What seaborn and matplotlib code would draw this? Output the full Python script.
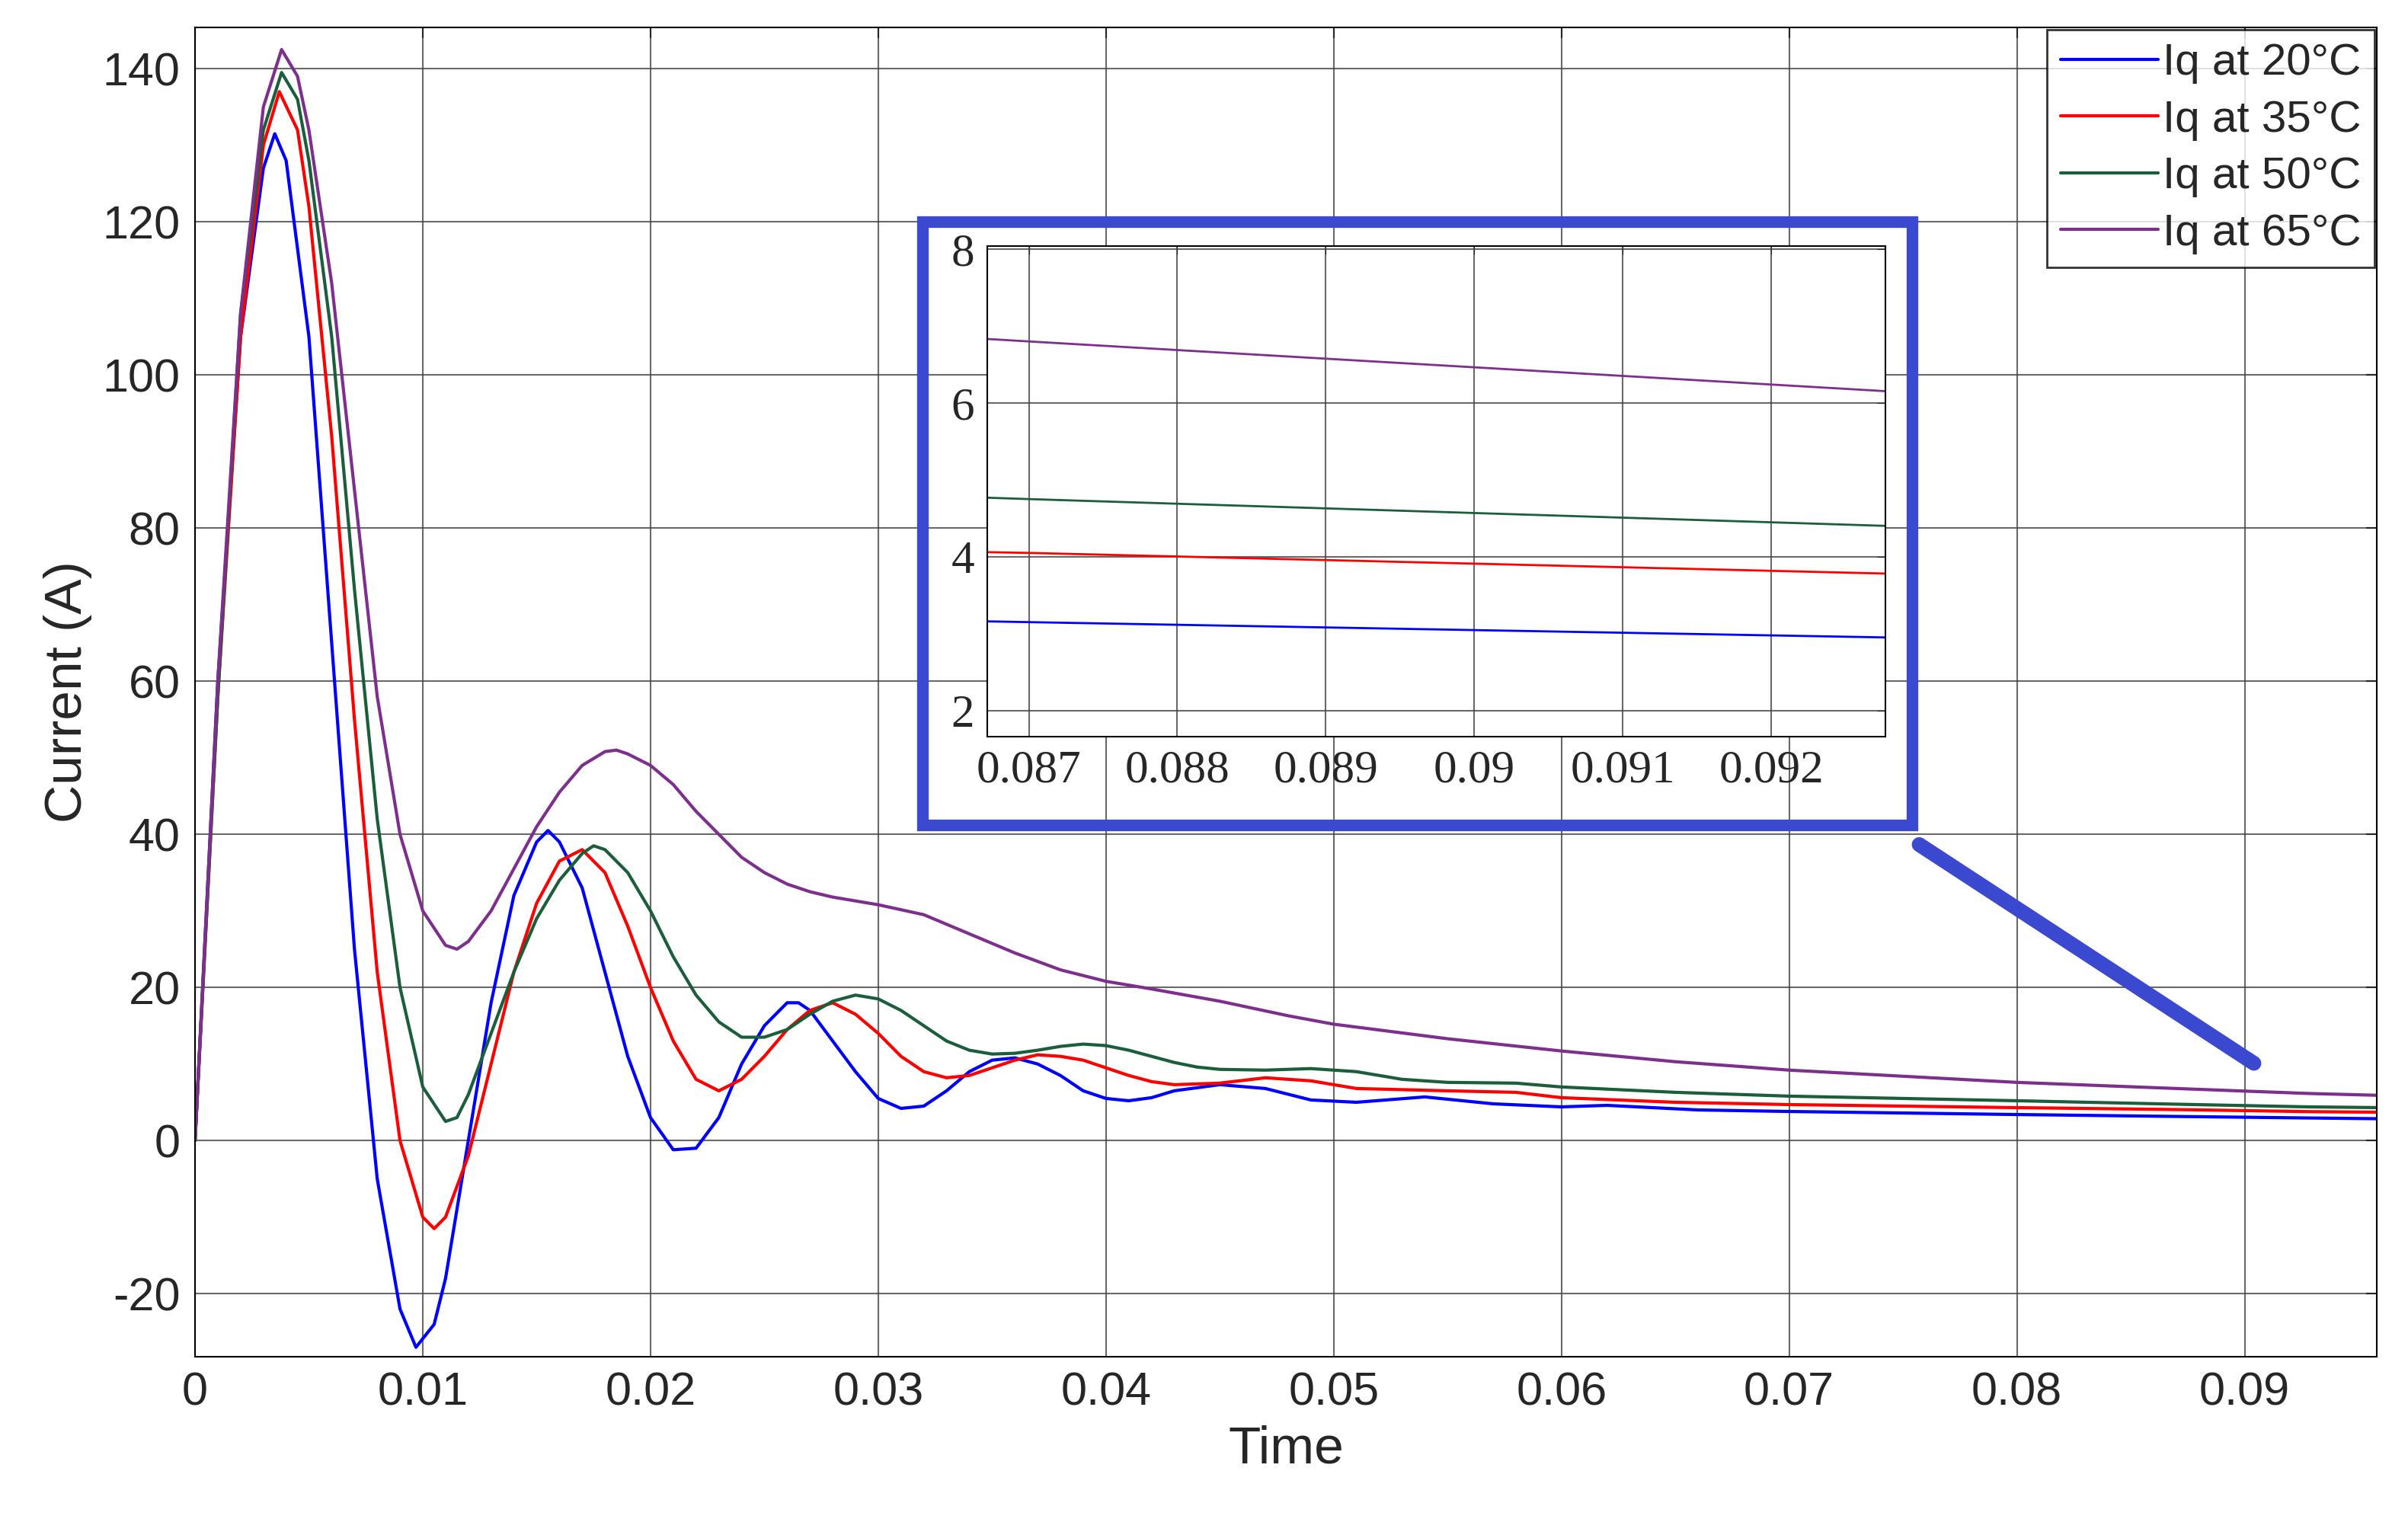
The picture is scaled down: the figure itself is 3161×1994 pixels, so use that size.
import numpy as np
import pandas as pd
import matplotlib
matplotlib.use("Agg")
import matplotlib.pyplot as plt
import seaborn as sns
from matplotlib.lines import Line2D
from matplotlib.patches import Rectangle

t_20 = [0, 0.001, 0.002, 0.003, 0.0035, 0.004, 0.005, 0.006, 0.007, 0.008, 0.009, 0.0097, 0.0105, 0.011, 0.012,
        0.013, 0.014, 0.015, 0.0155, 0.016, 0.017, 0.018, 0.019, 0.020, 0.021, 0.022, 0.023, 0.024, 0.025, 0.026,
        0.0265, 0.027, 0.028, 0.029, 0.030, 0.031, 0.032, 0.033, 0.034, 0.035, 0.036, 0.037, 0.038, 0.039, 0.040,
        0.041, 0.042, 0.043, 0.045, 0.047, 0.049, 0.051, 0.054, 0.057, 0.060, 0.062, 0.066, 0.070, 0.080, 0.087,
        0.0928, 0.096]
iq_20 = [0, 60, 105, 127, 131.5, 128, 105, 65, 25, -5, -22, -27, -24, -18, 0,
         18, 32, 39, 40.5, 39, 33, 22, 11, 3, -1.2, -1, 3, 10, 15, 18,
         18, 17, 13, 9, 5.5, 4.2, 4.5, 6.5, 9, 10.5, 10.8, 10, 8.5, 6.5, 5.5,
         5.2, 5.6, 6.5, 7.3, 6.8, 5.3, 5.0, 5.7, 4.8, 4.4, 4.6, 4.0, 3.8, 3.4, 3.15,
         2.95, 2.85]

t_35 = [0, 0.001, 0.002, 0.003, 0.0037, 0.0045, 0.005, 0.006, 0.007, 0.008, 0.009, 0.010, 0.0105, 0.011, 0.012,
        0.013, 0.014, 0.015, 0.016, 0.017, 0.018, 0.019, 0.020, 0.021, 0.022, 0.023, 0.024, 0.025, 0.026, 0.027,
        0.028, 0.029, 0.030, 0.031, 0.032, 0.033, 0.034, 0.035, 0.036, 0.037, 0.038, 0.039, 0.040, 0.041, 0.042,
        0.043, 0.045, 0.047, 0.049, 0.051, 0.055, 0.058, 0.060, 0.065, 0.070, 0.080, 0.087, 0.0928, 0.096]
iq_35 = [0, 58, 105, 130, 137, 132, 122, 92, 55, 22, 0, -10, -11.5, -10, -2,
         10, 22, 31, 36.5, 38, 35, 28, 20, 13, 8, 6.5, 8, 11, 14.5, 17,
         18, 16.5, 14, 11, 9, 8.2, 8.5, 9.5, 10.5, 11.2, 11, 10.5, 9.5, 8.5, 7.7,
         7.3, 7.5, 8.2, 7.8, 6.8, 6.5, 6.3, 5.6, 5.0, 4.7, 4.3, 4.05, 3.78, 3.7]

t_50 = [0, 0.001, 0.002, 0.003, 0.0038, 0.0045, 0.005, 0.006, 0.007, 0.008, 0.009, 0.010, 0.011, 0.0115, 0.012,
        0.013, 0.014, 0.015, 0.016, 0.017, 0.0175, 0.018, 0.019, 0.020, 0.021, 0.022, 0.023, 0.024, 0.025, 0.026,
        0.027, 0.028, 0.029, 0.030, 0.031, 0.032, 0.033, 0.034, 0.035, 0.036, 0.037, 0.038, 0.039, 0.040, 0.041,
        0.042, 0.043, 0.044, 0.045, 0.047, 0.049, 0.051, 0.053, 0.055, 0.058, 0.060, 0.065, 0.070, 0.080, 0.087,
        0.0928, 0.096]
iq_50 = [0, 58, 108, 132, 139.5, 136, 128, 105, 72, 42, 20, 7, 2.5, 3, 6,
         14, 22, 29, 34, 37.5, 38.5, 38, 35, 30, 24, 19, 15.5, 13.5, 13.5, 14.5,
         16.5, 18.2, 19, 18.5, 17, 15, 13, 11.8, 11.3, 11.4, 11.8, 12.3, 12.6, 12.4, 11.8,
         11, 10.2, 9.6, 9.3, 9.2, 9.4, 9.0, 8.0, 7.6, 7.5, 7.0, 6.3, 5.8, 5.2, 4.75,
         4.4, 4.3]

t_65 = [0, 0.001, 0.002, 0.003, 0.0038, 0.0045, 0.005, 0.006, 0.007, 0.008, 0.009, 0.010, 0.011, 0.0115, 0.012,
        0.013, 0.014, 0.015, 0.016, 0.017, 0.018, 0.0185, 0.019, 0.020, 0.021, 0.022, 0.023, 0.024, 0.025, 0.026,
        0.027, 0.028, 0.030, 0.032, 0.034, 0.036, 0.038, 0.040, 0.042, 0.045, 0.048, 0.050, 0.055, 0.060, 0.065,
        0.070, 0.080, 0.087, 0.0928, 0.096]
iq_65 = [0, 60, 108, 135, 142.5, 139, 132, 112, 85, 58, 40, 30, 25.5, 25, 26,
         30, 35.5, 41, 45.5, 49, 50.8, 51, 50.5, 49, 46.5, 43, 40, 37, 35, 33.5,
         32.5, 31.8, 30.8, 29.5, 27, 24.5, 22.3, 20.8, 19.8, 18.2, 16.3, 15.2, 13.3, 11.7, 10.3,
         9.2, 7.6, 6.8, 6.15, 5.9]

labels = ["Iq at 20°C", "Iq at 35°C", "Iq at 50°C", "Iq at 65°C"]
colors = ["#0000ff", "#ff0000", "#1b5e3b", "#7e2f8e"]

frames = []
for lab, t, v in zip(labels, [t_20, t_35, t_50, t_65], [iq_20, iq_35, iq_50, iq_65]):
    frames.append(pd.DataFrame({"Time": t, "Current": v, "series": lab}))
df = pd.concat(frames, ignore_index=True)

sns.set_style("white")
plt.rcParams['font.family'] = ['Liberation Sans', 'DejaVu Sans']
plt.rcParams['axes.unicode_minus'] = False

fig = plt.figure(figsize=(31.61, 19.94), dpi=100)
ax = fig.add_axes([0.081, 0.107, 0.906, 0.875])
sns.lineplot(data=df, x="Time", y="Current", hue="series", palette=colors, ax=ax,
             linewidth=3, sort=False, estimator=None, legend=False)
ax.set_xlim(0, 0.0958)
ax.set_ylim(-28.2, 145.4)
ax.set_xticks(np.arange(0, 0.091, 0.01))
ax.set_xticklabels(["0"] + ["%.2f" % x for x in np.arange(0.01, 0.091, 0.01)])
ax.set_yticks(np.arange(-20, 141, 20))
ax.grid(True, color="#444444", linewidth=1.5, alpha=0.8)
ax.tick_params(labelsize=44, length=10, direction="in", width=1.5, pad=14, top=True, right=True)
ax.set_xlabel("Time", fontsize=50, labelpad=10)
ax.set_ylabel("Current (A)", fontsize=50, labelpad=10)
for s in ax.spines.values():
    s.set_color("black")
    s.set_linewidth(1.5)

handles = [Line2D([], [], color=c, linewidth=3) for c in colors]
leg = ax.legend(handles, labels, loc="upper right", fontsize=42, frameon=True, fancybox=False,
                borderaxespad=0.05, borderpad=0.3, handlelength=2.2, handletextpad=0.1, labelspacing=0.35)
leg.get_frame().set_edgecolor("black")
leg.get_frame().set_linewidth(2)

# inset
ins = fig.add_axes([0.410, 0.515, 0.373, 0.323])
sns.lineplot(data=df, x="Time", y="Current", hue="series", palette=colors, ax=ins,
             linewidth=2, sort=False, estimator=None, legend=False)
ins.set_xlim(0.08672, 0.09277)
ins.set_ylim(1.66, 8.04)
ins.set_xticks([0.087, 0.088, 0.089, 0.09, 0.091, 0.092])
ins.set_xticklabels(["0.087", "0.088", "0.089", "0.09", "0.091", "0.092"])
ins.set_yticks([2, 4, 6, 8])
ins.grid(True, color="#444444", linewidth=1.5, alpha=0.8)
ins.set_xlabel("")
ins.set_ylabel("")
ins.tick_params(labelsize=44, direction="in", length=8, pad=12, top=True, right=True)
for lab in ins.get_xticklabels() + ins.get_yticklabels():
    lab.set_family(["Liberation Serif", "DejaVu Serif"])
for s in ins.spines.values():
    s.set_color("black")
    s.set_linewidth(1.5)

fig.patches.append(Rectangle((0.383, 0.457), 0.411, 0.397, transform=fig.transFigure,
                             fill=False, edgecolor="#3b48d0", linewidth=11, zorder=5))
fig.lines.append(Line2D([0.797, 0.936], [0.444, 0.300], transform=fig.transFigure,
                        color="#3b48d0", linewidth=14, zorder=5))

fig.savefig("out.png", dpi=100, facecolor="white")
